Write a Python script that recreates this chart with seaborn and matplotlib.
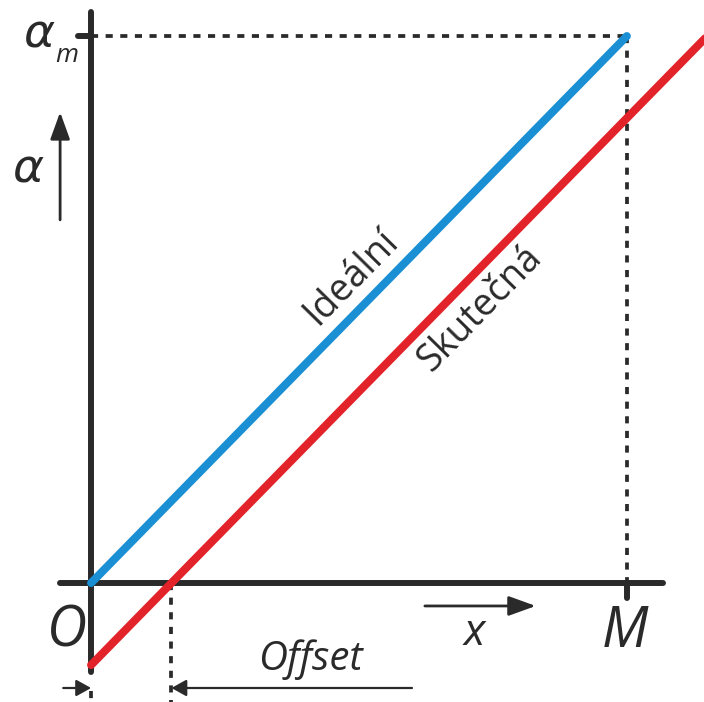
import numpy as np
import pandas as pd
import seaborn as sns
import matplotlib.pyplot as plt

# ------------------------------------------------------------
# data (x in units of M, alpha in units of alpha_m)
# ------------------------------------------------------------
ideal_x = [0.0, 1.0]
ideal_alpha = [0.0, 1.0]
offset = 0.15
real_x = [0.0, 1.16]
real_alpha = [-0.15, 1.01]
labels = ["Ideální", "Skutečná"]

BLUE = "#1a8fd3"
RED = "#e3232a"
INK = "#2a2a2a"

df = pd.DataFrame({
    "x": ideal_x + real_x,
    "alpha": ideal_alpha + real_alpha,
    "kind": [labels[0]] * len(ideal_x) + [labels[1]] * len(real_x),
})

sns.set_style("white")
plt.rcParams["font.family"] = ["Open Sans", "DejaVu Sans"]

fig = plt.figure(figsize=(7.04, 7.02), dpi=100)
ax = fig.add_axes([0, 0, 1, 1])

# axes lines
ax.plot([0, 0], [-0.163, 1.044], color=INK, lw=4.3, solid_capstyle="round", zorder=2)
ax.plot([-0.058, 1.067], [0, 0], color=INK, lw=4.3, solid_capstyle="round", zorder=2)
ax.plot([-0.024, 0], [1, 1], color=INK, lw=4.3, solid_capstyle="round", zorder=2)
ax.plot([1, 1], [0, -0.027], color=INK, lw=4.3, solid_capstyle="round", zorder=2)

# dotted guides
dots = dict(color=INK, lw=2.7, linestyle=(0, (1.9, 2.0)), zorder=1)
ax.plot([0, 1], [1, 1], **dots)
ax.plot([1, 1], [1, 0], **dots)
ax.plot([offset, offset], [0, -0.22], **dots)
ax.plot([0, 0], [-0.198, -0.22], **dots)

# the two characteristics
sns.lineplot(data=df, x="x", y="alpha", hue="kind", palette=[BLUE, RED],
             lw=5.8, legend=False, ax=ax, solid_capstyle="round", zorder=3)

# arrows
def arrow(x0, y0, x1, y1, ms, hl, hw, lw):
    ax.annotate("", xy=(x1, y1), xytext=(x0, y0),
                arrowprops=dict(arrowstyle=f"-|>,head_length={hl},head_width={hw}",
                                mutation_scale=ms, lw=lw, color=INK,
                                shrinkA=0, shrinkB=0))

arrow(-0.0578, 0.664, -0.0578, 0.861, 20, 0.83, 0.3, 2.0)
arrow(0.623, -0.042, 0.830, -0.042, 20, 0.83, 0.3, 2.0)
arrow(-0.052, -0.192, 0.0, -0.192, 10, 0.9, 0.5, 1.6)
arrow(0.599, -0.192, offset, -0.192, 10, 0.9, 0.5, 1.6)

# text
it = dict(style="italic", color=INK, ha="center", va="baseline")
greek = dict(it, family=["DejaVu Sans"])
ax.text(-0.045, -0.117, "O", fontsize=40, **it)
ax.text(0.996, -0.117, "M", fontsize=40, **it)
ax.text(0.716, -0.113, "x", fontsize=32, **it)
ax.text(0.410, -0.160, "Offset", fontsize=29, **it)
ax.text(-0.117, 0.733, "α", fontsize=34, **greek)
ax.text(-0.097, 0.980, "α", fontsize=34, **greek)
ax.text(-0.045, 0.952, "m", fontsize=19, **it)

angle = np.degrees(np.arctan(547 / 536))
ax.text(0.485, 0.559, labels[0], fontsize=27, color=INK, rotation=angle,
        rotation_mode="anchor", ha="center", va="center")
ax.text(0.726, 0.501, labels[1], fontsize=27, color=INK, rotation=angle,
        rotation_mode="anchor", ha="center", va="center")

ax.set_xlim(-0.170, 1.144)
ax.set_ylim(-0.2176, 1.066)
ax.axis("off")

fig.savefig("out.png", dpi=100)
